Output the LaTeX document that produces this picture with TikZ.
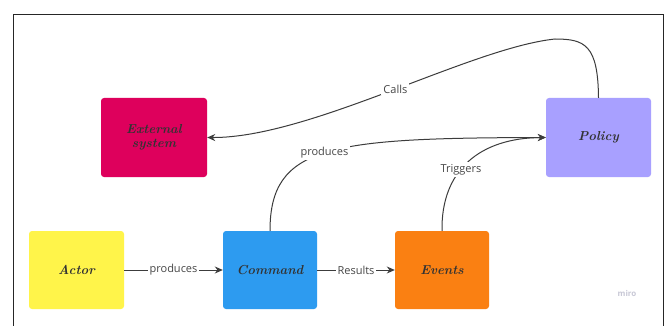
\documentclass[tikz,border=0pt]{standalone}
\usepackage{fontspec}
\setsansfont{Open Sans}
\usetikzlibrary{arrows.meta}
\definecolor{extc}{RGB}{222,0,92}
\definecolor{polc}{RGB}{168,160,255}
\definecolor{actc}{RGB}{255,244,74}
\definecolor{cmdc}{RGB}{45,155,240}
\definecolor{evtc}{RGB}{250,128,18}
\definecolor{linec}{RGB}{60,60,60}
\definecolor{labc}{RGB}{70,70,70}
\definecolor{miroc}{RGB}{200,200,214}
\tikzset{
  card/.style={rounded corners=3pt, minimum width=95pt, minimum height=78pt, inner sep=0pt,
    font=\rmfamily\bfseries\itshape\fontsize{13}{14}\selectfont, text=black!80, align=center},
  conn/.style={draw=linec, line width=1pt, -{Stealth[length=8pt,width=7pt]}},
  lab/.style={fill=white, inner sep=2pt, font=\sffamily\fontsize{11}{12}\selectfont, text=labc}
}
\begin{document}
\begin{tikzpicture}[x=1pt,y=-1pt]
\useasboundingbox (0,0) rectangle (666,326);
\fill[white] (0,0) rectangle (666,326);
\draw[black!85, line width=0.9pt] (13,326) -- (13,14) -- (663,14) -- (663,326);
\node[card, fill=extc, minimum width=106pt, minimum height=79pt] (ext) at (154,137.5) {External\\system};
\node[card, fill=polc, minimum width=105pt, minimum height=79pt] (pol) at (598.5,137.5) {Policy};
\node[card, fill=actc] (act) at (76.5,270) {Actor};
\node[card, fill=cmdc, minimum width=94pt] (cmd) at (270,270) {Command};
\node[card, fill=evtc, minimum width=94pt] (evt) at (442,270) {Events};
\node[font=\sffamily\bfseries\fontsize{8}{9}\selectfont, text=miroc] (miro) at (627,293) {miro};
\draw[conn] (act) -- node[lab] {produces} (cmd);
\draw[conn] (cmd) -- node[lab] {Results} (evt);
\draw[conn] (cmd.north) .. controls (270,145) and (330,138) .. node[lab, pos=0.49] {produces} (pol.west);
\draw[conn] (evt.north) .. controls (441,170) and (480,138) .. node[lab, pos=0.42] {Triggers} (pol.west);
\draw[conn] (pol.north) .. controls (598,45) and (585,39) .. (555,39)
  .. controls (470,48) and (310,138) .. node[lab, pos=0.48] {Calls} (ext.east);
\end{tikzpicture}
\end{document}
